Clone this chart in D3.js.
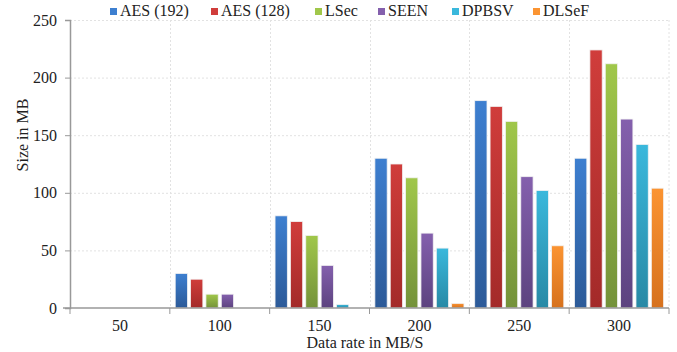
<!DOCTYPE html>
<html>
<head>
<meta charset="utf-8">
<script src="https://cdn.jsdelivr.net/npm/d3@7"></script>
<style>
  body { margin: 0; background: #fff; }
  text { font-family: "Liberation Serif", "Times New Roman", serif; fill: #222; }
</style>
</head>
<body>
<div id="chart"></div>
<script>
// data
var rates = ["50", "100", "150", "200", "250", "300"];
var series = ["AES (192)", "AES (128)", "LSec", "SEEN", "DPBSV", "DLSeF"];
var aes192 = [0, 30, 80, 130, 180, 130];
var aes128 = [0, 25, 75, 125, 175, 224];
var lsec   = [0, 12, 63, 113, 162, 212];
var seen   = [0, 12, 37, 65, 114, 164];
var dpbsv  = [0, 0, 3, 52, 102, 142];
var dlsef  = [0, 0, 0, 4, 54, 104];
var yTicks = [0, 50, 100, 150, 200, 250];

var values = [aes192, aes128, lsec, seen, dpbsv, dlsef];
var colors = [
  ["#3d7fd0", "#2c5a98"],
  ["#d03d3b", "#a32a29"],
  ["#a0c74a", "#74923a"],
  ["#8460ad", "#5c437f"],
  ["#3ab8dc", "#2889a5"],
  ["#fb9432", "#d6711d"]
];
var legendX = [110, 211, 315, 378, 452, 533];

var width = 677, height = 352;
var margin = {top: 20, right: 10, bottom: 44, left: 70};

var svg = d3.select("#chart").append("svg")
    .attr("width", width)
    .attr("height", height);

var x = d3.scaleBand()
    .domain(rates)
    .range([margin.left, 669])
    .paddingInner(0)
    .paddingOuter(0);

var xs = d3.scaleBand()
    .domain(series)
    .range([0, x.bandwidth()])
    .paddingInner(0.2)
    .paddingOuter(0.35);

var y = d3.scaleLinear()
    .domain([0, 250])
    .range([308, margin.top]);

// gradients
var defs = svg.append("defs");
colors.forEach(function (c, i) {
  var g = defs.append("linearGradient")
      .attr("id", "grad" + i)
      .attr("x1", 0).attr("y1", 0).attr("x2", 0).attr("y2", 1);
  g.append("stop").attr("offset", "0%").attr("stop-color", c[0]);
  g.append("stop").attr("offset", "100%").attr("stop-color", c[1]);
});

// grid
var grid = svg.append("g");
grid.selectAll("line.h")
    .data(yTicks.slice(1))
    .enter().append("line")
    .attr("x1", margin.left).attr("x2", 669)
    .attr("y1", function (d) { return y(d) + 0.5; })
    .attr("y2", function (d) { return y(d) + 0.5; })
    .attr("stroke", "#e2e2e2")
    .attr("stroke-dasharray", "2,2");
grid.selectAll("line.v")
    .data(rates.slice(1).concat(["end"]))
    .enter().append("line")
    .attr("x1", function (d) { return d === "end" ? 669 : Math.round(x(d)) + 0.5; })
    .attr("x2", function (d) { return d === "end" ? 669 : Math.round(x(d)) + 0.5; })
    .attr("y1", y(250)).attr("y2", y(0))
    .attr("stroke", "#e2e2e2")
    .attr("stroke-dasharray", "2,2");

// bars
var groups = svg.append("g").selectAll("g")
    .data(rates)
    .enter().append("g")
    .attr("transform", function (d) { return "translate(" + x(d) + ",0)"; });

groups.selectAll("rect")
    .data(function (d, i) {
      return series.map(function (s, j) { return {s: s, j: j, v: values[j][i]}; });
    })
    .enter().append("rect")
    .filter(function (d) { return d.v > 0; })
    .attr("x", function (d) { return xs(d.s); })
    .attr("y", function (d) { return y(d.v); })
    .attr("width", xs.bandwidth())
    .attr("height", function (d) { return y(0) - y(d.v); })
    .attr("fill", function (d) { return "url(#grad" + d.j + ")"; })
    .attr("stroke", "#f2f2f2")
    .attr("stroke-width", 0.8);

// axes
var yAxis = svg.append("g")
    .attr("transform", "translate(" + margin.left + ",0)")
    .call(d3.axisLeft(y).tickValues(yTicks).tickSize(5).tickPadding(8));
yAxis.select(".domain").attr("stroke", "#999").attr("stroke-width", 1.5);
yAxis.selectAll(".tick line").attr("stroke", "#999");
yAxis.selectAll("text").style("font-size", "16px").attr("fill", "#222")
    .style("font-family", "Liberation Serif");

var xAxis = svg.append("g")
    .attr("transform", "translate(0," + y(0) + ")");
xAxis.append("line")
    .attr("x1", margin.left - 7).attr("x2", 669)
    .attr("stroke", "#999").attr("stroke-width", 1.5);
xAxis.selectAll("line.tk")
    .data(rates.concat(["end"]))
    .enter().append("line")
    .attr("x1", function (d) { return d === "end" ? 669 : x(d); })
    .attr("x2", function (d) { return d === "end" ? 669 : x(d); })
    .attr("y1", 0).attr("y2", 6)
    .attr("stroke", "#999");
xAxis.selectAll("text")
    .data(rates)
    .enter().append("text")
    .attr("x", function (d) { return x(d) + x.bandwidth() / 2; })
    .attr("y", 23)
    .attr("text-anchor", "middle")
    .style("font-size", "16px")
    .text(function (d) { return d; });

// axis titles
svg.append("text")
    .attr("x", 365).attr("y", 348)
    .attr("text-anchor", "middle")
    .style("font-size", "16px")
    .text("Data rate in MB/S");
svg.append("text")
    .attr("transform", "translate(28,135) rotate(-90)")
    .attr("text-anchor", "middle")
    .style("font-size", "16px")
    .text("Size in MB");

// legend
var legend = svg.append("g");
var li = legend.selectAll("g")
    .data(series)
    .enter().append("g")
    .attr("transform", function (d, i) { return "translate(" + legendX[i] + ",8)"; });
li.append("rect")
    .attr("width", 7).attr("height", 7)
    .attr("fill", function (d, i) { return colors[i][0]; });
li.append("text")
    .attr("x", 10).attr("y", 8)
    .style("font-size", "16px")
    .text(function (d) { return d; });
</script>
</body>
</html>
